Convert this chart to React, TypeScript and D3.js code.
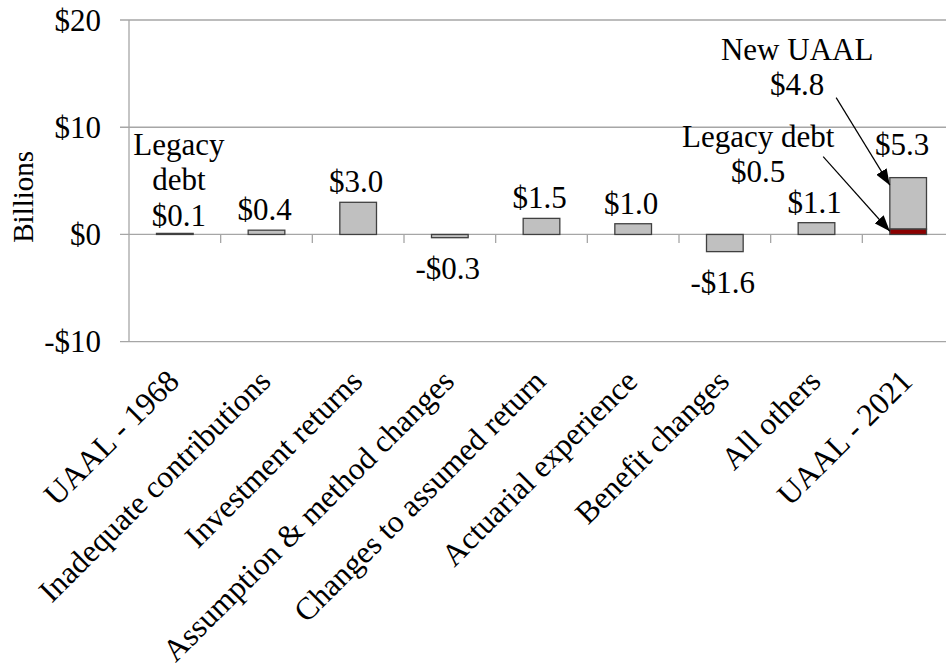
import React from "react";
import * as d3 from "d3";

const categories = [
  "UAAL - 1968",
  "Inadequate contributions",
  "Investment returns",
  "Assumption & method changes",
  "Changes to assumed return",
  "Actuarial experience",
  "Benefit changes",
  "All others",
  "UAAL - 2021",
];
// main (gray) segment values
const grayValues = [0.1, 0.4, 3.0, -0.3, 1.5, 1.0, -1.6, 1.1, 4.8];
// legacy debt (dark red) segment values
const legacyValues = [0, 0, 0, 0, 0, 0, 0, 0, 0.5];
const dataLabels = ["$0.1", "$0.4", "$3.0", "-$0.3", "$1.5", "$1.0", "-$1.6", "$1.1", "$5.3"];
const yTicks = [-10, 0, 10, 20];
const yTickLabels = ["-$10", "$0", "$10", "$20"];

const W = 946;
const H = 664;
const FONT = "Liberation Serif";

function T(props: any) {
  const { children, ...rest } = props;
  return (
    <text fontFamily={FONT} style={{ fontFamily: FONT }} fill="#000" {...rest}>
      {children}
    </text>
  );
}

export default function App() {
  const x = d3.scaleBand<string>().domain(categories).range([129, 954]).padding(0);
  const y = d3.scaleLinear().domain([-10, 20]).range([341.7, 20]);
  const bw = x.bandwidth();
  const barW = bw * 0.4;
  const y0 = y(0);

  const lastCat = categories[categories.length - 1];
  const lastLeft = (x(lastCat) as number) + (bw - barW) / 2;
  const lastCenter = (x(lastCat) as number) + bw / 2;
  const total = grayValues[8] + legacyValues[8];

  return (
    <div style={{ position: "absolute", left: 0, top: 0, width: W, height: H, background: "#fff" }}>
      <svg width={W} height={H} style={{ display: "block" }}>
        <defs>
          <marker
            id="ah"
            viewBox="0 0 16 12"
            refX="16"
            refY="6"
            markerWidth="16"
            markerHeight="12"
            markerUnits="userSpaceOnUse"
            orient="auto"
          >
            <path d="M0,0 L16,6 L0,12 Z" fill="#000" />
          </marker>
        </defs>

        {yTicks.map((t) => (
          <line key={"g" + t} x1={120} x2={W} y1={y(t)} y2={y(t)} stroke="#a6a6a6" strokeWidth={1.3} />
        ))}
        <line x1={129} x2={129} y1={y(20)} y2={y(-10)} stroke="#a6a6a6" strokeWidth={1.3} />
        {categories.map((c, i) =>
          i === 0 ? null : (
            <line
              key={"t" + c}
              x1={x(c) as number}
              x2={x(c) as number}
              y1={y0}
              y2={y0 + 8.5}
              stroke="#a6a6a6"
              strokeWidth={1.3}
            />
          )
        )}

        {yTicks.map((t, i) => (
          <T key={"yl" + t} x={101} y={y(t) + 10.5} textAnchor="end" fontSize={31}>
            {yTickLabels[i]}
          </T>
        ))}
        <T transform={`translate(33, ${(y(20) + y(-10)) / 2 + 16}) rotate(-90)`} textAnchor="middle" fontSize={29}>
          Billions
        </T>

        {categories.map((c, i) => {
          const bx = (x(c) as number) + (bw - barW) / 2;
          const base = legacyValues[i];
          const v = grayValues[i];
          const top = y(Math.max(base, base + v));
          const bot = y(Math.min(base, base + v));
          return (
            <g key={"b" + c}>
              <rect x={bx} y={top} width={barW} height={Math.max(bot - top, 0.5)} fill="#c0c0c0" stroke="#404040" strokeWidth={1.3} />
              {legacyValues[i] > 0 && (
                <rect
                  x={bx}
                  y={y(legacyValues[i])}
                  width={barW}
                  height={y0 - y(legacyValues[i])}
                  fill="#8b0000"
                  stroke="#404040"
                  strokeWidth={1.3}
                />
              )}
            </g>
          );
        })}

        {categories.map((c, i) => {
          const cx = (x(c) as number) + bw / 2;
          const v = grayValues[i] + legacyValues[i];
          if (i === 0) {
            return (
              <T key={"dl" + c} textAnchor="middle" fontSize={31}>
                <tspan x={cx + 4} y={y(v) - 78.5}>Legacy</tspan>
                <tspan x={cx + 4} y={y(v) - 43}>debt</tspan>
                <tspan x={cx + 4} y={y(v) - 7}>{dataLabels[i]}</tspan>
              </T>
            );
          }
          if (i === categories.length - 1) {
            return (
              <T key={"dl" + c} x={cx - 6} y={y(total) - 23} textAnchor="middle" fontSize={31}>
                {dataLabels[i]}
              </T>
            );
          }
          const ly = v >= 0 ? y(v) - 10 : y(v) + 41;
          return (
            <T key={"dl" + c} x={cx - 2} y={ly} textAnchor="middle" fontSize={31}>
              {dataLabels[i]}
            </T>
          );
        })}

        <T textAnchor="middle" fontSize={31}>
          <tspan x={lastCenter - 111} y={y(total) - 118}>New UAAL</tspan>
          <tspan x={lastCenter - 111} y={y(total) - 83}>$4.8</tspan>
        </T>
        <line
          x1={lastCenter - 72}
          y1={y(total) - 80}
          x2={lastLeft}
          y2={y(4.6)}
          stroke="#000"
          strokeWidth={1.2}
          markerEnd="url(#ah)"
        />
        <T textAnchor="middle" fontSize={31}>
          <tspan x={lastCenter - 150} y={y(total) - 31}>Legacy debt</tspan>
          <tspan x={lastCenter - 150} y={y(total) + 4}>$0.5</tspan>
        </T>
        <line
          x1={lastCenter - 85}
          y1={y(total) - 21}
          x2={lastLeft}
          y2={y(0.3)}
          stroke="#000"
          strokeWidth={1.2}
          markerEnd="url(#ah)"
        />

        {categories.map((c) => {
          const cx = (x(c) as number) + bw / 2 + 6;
          return (
            <T key={"cl" + c} transform={`translate(${cx}, 383) rotate(-45)`} textAnchor="end" fontSize={31.5}>
              {c}
            </T>
          );
        })}
      </svg>
    </div>
  );
}
